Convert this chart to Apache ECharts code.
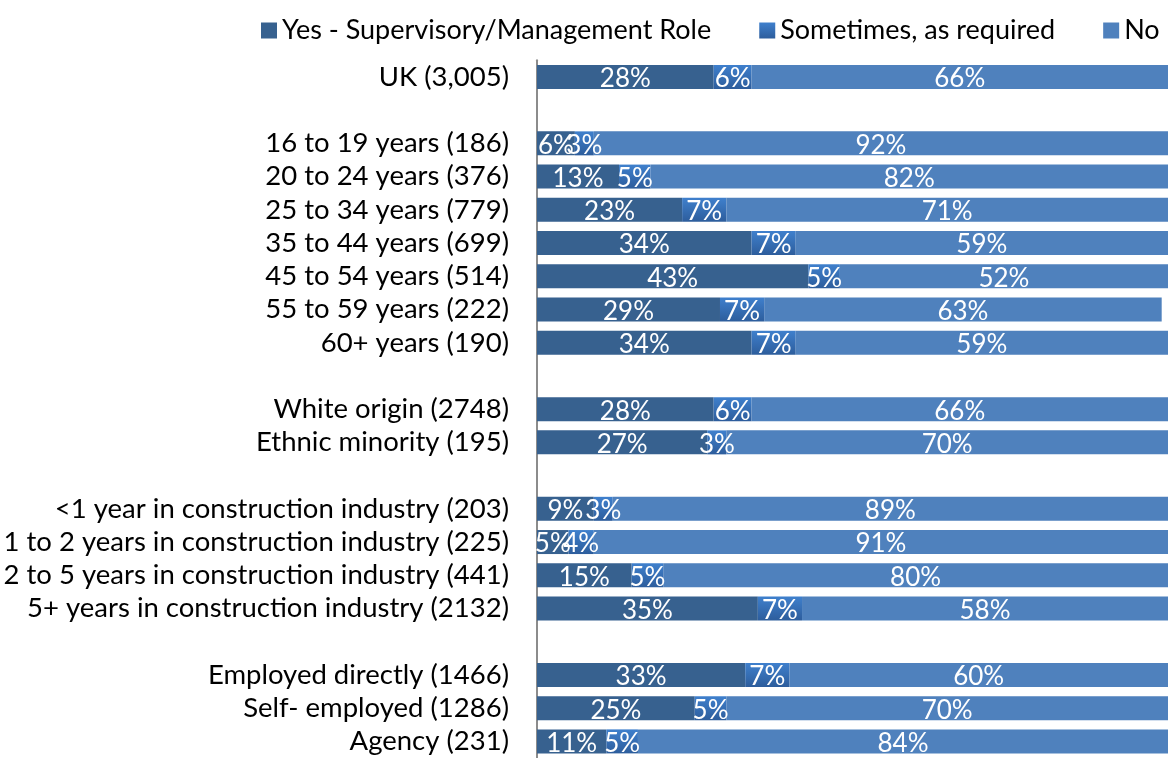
<!DOCTYPE html>
<html>
<head>
<meta charset="utf-8">
<script src="https://cdn.jsdelivr.net/npm/echarts@6/dist/echarts.min.js"></script>
<style>
  html, body { margin: 0; padding: 0; background: #fff; }
  #chart { width: 1168px; height: 758px; }
</style>
</head>
<body>
<div id="chart"></div>
<script>
// categories, blank entries are the gaps between groups
var categorias = [
    'UK (3,005)', ' ',
    '16 to 19 years (186)', '20 to 24 years (376)', '25 to 34 years (779)',
    '35 to 44 years (699)', '45 to 54 years (514)', '55 to 59 years (222)',
    '60+ years (190)', '  ',
    'White origin (2748)', 'Ethnic minority (195)', '   ',
    '<1 year in construction industry (203)', '1 to 2 years in construction industry (225)',
    '2 to 5 years in construction industry (441)', '5+ years in construction industry (2132)', '    ',
    'Employed directly (1466)', 'Self- employed (1286)', 'Agency (231)'
];

var datosSi = [28, null, 6, 13, 23, 34, 43, 29, 34, null, 28, 27, null, 9, 5, 15, 35, null, 33, 25, 11];
var datosAVeces = [6, null, 3, 5, 7, 7, 5, 7, 7, null, 6, 3, null, 3, 4, 5, 7, null, 7, 5, 5];
var datosNo = [66, null, 92, 82, 71, 59, 52, 63, 59, null, 66, 70, null, 89, 91, 80, 58, null, 60, 70, 84];

var nombres = ['Yes - Supervisory/Management Role', 'Sometimes, as required', 'No'];

const fuente = 'Lato';

const etiqueta = {
    show: true,
    position: 'inside',
    color: '#fff',
    fontFamily: fuente,
    fontSize: 26,
    offset: [0, 2],
    formatter: (p) => p.value + '%'
};

const getOption = () => {
    const colores = [
        '#37618F',
        new echarts.graphic.LinearGradient(0, 0, 0, 1, [
            { offset: 0, color: '#3F80CD' },
            { offset: 1, color: '#2D5D9C' }
        ]),
        '#4F81BD'
    ];
    const datos = [datosSi, datosAVeces, datosNo];
    return {
        animation: false,
        textStyle: { fontFamily: fuente },
        legend: {
            left: 256,
            top: 12,
            width: 1400,
            itemWidth: 16,
            itemHeight: 16,
            itemGap: 48,
            icon: 'rect',
            textStyle: { fontSize: 27, color: '#000', fontFamily: fuente },
            data: nombres
        },
        grid: { left: 537, right: 0, top: 60.3, bottom: -3.7, containLabel: false },
        xAxis: {
            type: 'value',
            min: 0,
            max: 100,
            show: false
        },
        yAxis: {
            type: 'category',
            inverse: true,
            data: categorias,
            axisLine: { show: true, lineStyle: { color: '#8c8c8c', width: 2 } },
            axisTick: { show: false },
            axisLabel: { interval: 0, margin: 28, fontSize: 27.5, color: '#000', fontFamily: fuente }
        },
        series: nombres.map((n, i) => ({
            name: n,
            type: 'bar',
            stack: 'total',
            barWidth: 24,
            itemStyle: { color: colores[i] },
            label: etiqueta,
            data: datos[i]
        }))
    };
};

const chart = echarts.init(document.getElementById('chart'));
chart.setOption(getOption());
</script>
</body>
</html>
